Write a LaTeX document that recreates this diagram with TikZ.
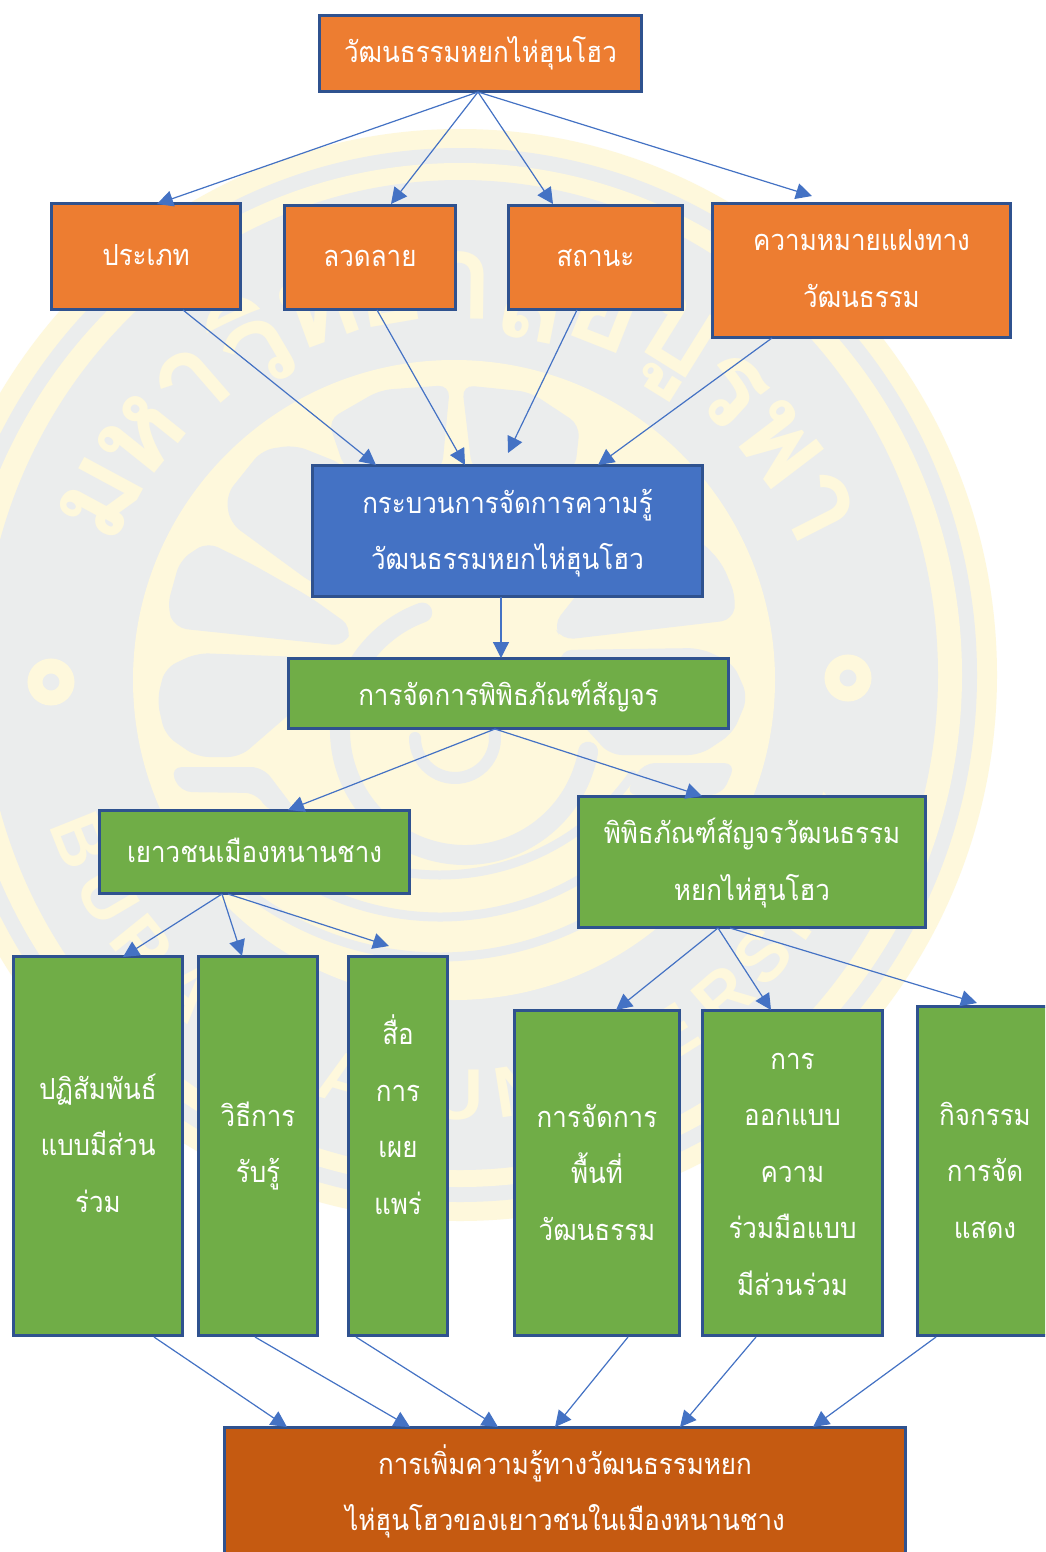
\documentclass[tikz,border=0pt]{standalone}
\usepackage{fontspec}
\usetikzlibrary{arrows.meta}
\newfontfamily\thaifont[Script=Thai]{Loma}
\newfontfamily\thainarrow[Script=Thai,FakeStretch=0.895]{Loma}
\newfontfamily\wmlatin{Liberation Sans}
\definecolor{wmy}{HTML}{FEF8DC}
\definecolor{wmg}{HTML}{EBEDED}
\definecolor{bord}{HTML}{2F528F}
\definecolor{conn}{HTML}{4472C4}
\definecolor{orangeb}{HTML}{ED7D31}
\definecolor{blueb}{HTML}{4472C4}
\definecolor{greenb}{HTML}{70AD47}
\definecolor{brownb}{HTML}{C55A11}
\tikzset{
  boxnode/.style={draw=bord,line width=3pt,inner sep=0pt},
  boxtext/.style={text=white,align=center,inner sep=0pt,
    font=\thainarrow\fontsize{29}{56.5}\selectfont},
  link/.style={draw=conn,line width=1.2pt,-{Triangle[length=16pt,width=16pt]}},
  wmblob/.style={fill=wmg,rounded corners=12pt},
  wmarc/.style={draw=wmg,line cap=round},
  wmthai/.style={text=wmy,inner sep=0pt,font=\thaifont\bfseries\fontsize{120}{120}\selectfont},
  wmlat/.style={text=wmy,inner sep=0pt,font=\wmlatin\bfseries\fontsize{72}{72}\selectfont}
}
\newcommand{\bx}[8][0]{\node[boxnode,fill=#7,minimum width={(#5)-(#3)-1.5},minimum height={(#6)-(#4)-1.5}] (#2) at ({((#3)+(#5))/2},{((#4)+(#6))/2}) {};
  \node[boxtext,yshift={-(#1)*1pt}] (#2text) at (#2.center) {#8};}
\begin{document}
\begin{tikzpicture}[x=1pt,y=-1pt]
\clip (0,0) rectangle (1045,1552);
\fill[white] (0,0) rectangle (1045,1552);
% watermark seal: outer rings
\fill[wmy] (460,675) ellipse [x radius=537,y radius=546];
\fill[wmg] (460,675) ellipse [x radius=517,y radius=527];
\fill[wmy] (460,675) ellipse [x radius=502,y radius=512];
\fill[wmg] (460,675) ellipse [x radius=478,y radius=495];
% inner wheel
\fill[wmy] (454,680) ellipse [x radius=321,y radius=320];
% grey fields between the spokes
\fill[wmblob] (295,445) -- (345,465) -- (352,600) -- (312,583) -- (230,523) -- (226,495) -- (262,450) -- cycle;
\fill[wmblob] (207,542) -- (250,563) -- (310,597) -- (352,627) -- (345,646) -- (175,628) -- (167,607) -- (180,560) -- cycle;
\fill[wmblob] (197,653) -- (300,657) -- (300,705) -- (240,757) -- (197,757) -- (165,735) -- (157,700) -- (165,668) -- cycle;
\fill[wmblob] (170,767) -- (263,767) -- (297,812) -- (268,812) -- (257,793) -- (180,792) -- cycle;
\fill[wmblob] (450,385) -- (442,470) -- (345,470) -- (328,420) -- (380,390) -- cycle;
\fill[wmblob] (462,385) -- (472,470) -- (575,470) -- (580,425) -- (530,392) -- cycle;
\fill[wmblob] (700,540) -- (722,563) -- (736,597) -- (733,620) -- (562,640) -- (553,625) -- (620,540) -- cycle;
\fill[wmblob] (560,650) -- (700,648) -- (733,663) -- (748,697) -- (733,733) -- (700,755) -- (610,755) -- (560,700) -- cycle;
\fill[wmblob] (643,763) -- (736,763) -- (722,795) -- (625,795) -- cycle;
% hub spiral and lower arcs
\draw[wmarc,line width=20pt] (465,730) ++(10:125) arc [start angle=10,end angle=250,radius=125];
\draw[wmarc,line width=12pt] (455,738) ++(-20:40) arc [start angle=-20,end angle=180,radius=40];
\draw[wmarc,line width=9pt] (440,640) ++(35:235) arc [start angle=35,end angle=135,radius=235];
\draw[wmarc,line width=9pt] (440,640) ++(38:277) arc [start angle=38,end angle=135,radius=277];
\draw[wmarc,line width=9pt] (440,640) ++(42:317) arc [start angle=42,end angle=135,radius=317];
% small rings
\draw[wmy,line width=15pt] (51,682) circle [radius=16];
\draw[wmy,line width=15pt] (848,678) circle [radius=16];
% watermark text
\foreach \ch [count=\i from 0] in {ม,ห,า,วิ,ท,ย,า,ลั,ย,บู,ร,พ,า}{
  \pgfmathsetmacro{\ang}{151.7-10.4*\i}
  \node[wmthai,rotate={\ang-90}] (wmt\i) at ({457+405*cos(\ang)},{690-405*sin(\ang)}) {\ch};
}
\foreach \ch/\ang [count=\i from 0] in {B/201.8,U/210.5,R/219,A/228,P/236,H/245,A/254,U/270,N/279,I/286,V/293,E/302,R/311,S/319,I/325,T/332,Y/341}{
  \node[wmlat,rotate={\ang+90}] (wml\i) at ({457+405*cos(\ang)},{690-405*sin(\ang)}) {\ch};
}
% boxes
\bx{top}{319}{15}{642}{92}{orangeb}{วัฒนธรรมหยกไห่ฮุนโฮว}
\bx[-1]{kind}{51}{203}{241}{310}{orangeb}{ประเภท}
\bx[1]{pattern}{284}{205}{456}{310}{orangeb}{ลวดลาย}
\bx[1]{status}{508}{205}{683}{310}{orangeb}{สถานะ}
\bx[-2]{meaning}{712}{203}{1011}{338}{orangeb}{ความหมายแฝงทาง\\วัฒนธรรม}
\bx[2]{process}{312}{465}{703}{597}{blueb}{กระบวนการจัดการความรู้\\วัฒนธรรมหยกไห่ฮุนโฮว}
\bx[3]{manage}{288}{658}{729}{729}{greenb}{การจัดการพิพิธภัณฑ์สัญจร}
\bx[-2]{youth}{99}{810}{410}{894}{greenb}{เยาวชนเมืองหนานชาง}
\bx[1]{museum}{578}{796}{926}{928}{greenb}{พิพิธภัณฑ์สัญจรวัฒนธรรม\\หยกไห่ฮุนโฮว}
\bx[-3]{inter}{13}{956}{183}{1336}{greenb}{ปฏิสัมพันธ์\\แบบมีส่วน\\ร่วม}
\bx{way}{198}{956}{318}{1336}{greenb}{วิธีการ\\รับรู้}
\bx[-3]{media}{348}{956}{448}{1336}{greenb}{สื่อ\\การ\\เผย\\แพร่\\\mbox{}}
\bx[-1]{space}{514}{1010}{680}{1336}{greenb}{การจัดการ\\พื้นที่\\วัฒนธรรม}
\bx[1]{design}{702}{1010}{883}{1336}{greenb}{การ\\ออกแบบ\\ความ\\ร่วมมือแบบ\\มีส่วนร่วม}
\bx[-1]{event}{917}{1006}{1053}{1336}{greenb}{กิจกรรม\\การจัด\\แสดง}
\bx[-2]{result}{224}{1427}{906}{1560}{brownb}{การเพิ่มความรู้ทางวัฒนธรรมหยก\\ไห่ฮุนโฮวของเยาวชนในเมืองหนานชาง}
% connector ends
\coordinate (t0) at (478,92);
\coordinate (a1) at (157,204); \coordinate (a2) at (391,204); \coordinate (a3) at (553,204); \coordinate (a4) at (812,196);
\coordinate (s1) at (183,310); \coordinate (s2) at (377,310); \coordinate (s3) at (577,310); \coordinate (s4) at (772,338);
\coordinate (e1) at (376,465); \coordinate (e2) at (465,465); \coordinate (e3) at (508,453); \coordinate (e4) at (598,465);
\coordinate (p0) at (501,597); \coordinate (p1) at (501,658);
\coordinate (m0) at (495,729); \coordinate (m1) at (288,810); \coordinate (m2) at (702,796);
\coordinate (y0) at (222,894); \coordinate (y1) at (228,894);
\coordinate (y2) at (123,957); \coordinate (y3) at (242,956); \coordinate (y4) at (389,946);
\coordinate (u0) at (718,928); \coordinate (u1) at (730,928);
\coordinate (u2) at (616,1010); \coordinate (u3) at (771,1010); \coordinate (u4) at (977,1003);
\coordinate (b1) at (154,1337); \coordinate (b2) at (255,1337); \coordinate (b3) at (356,1337);
\coordinate (b4) at (628,1337); \coordinate (b5) at (756,1337); \coordinate (b6) at (936,1337);
\coordinate (r1) at (287,1427); \coordinate (r2) at (410,1427); \coordinate (r3) at (498,1427);
\coordinate (r4) at (555,1427); \coordinate (r5) at (680,1427); \coordinate (r6) at (813,1427);
% connectors
\foreach \a/\b in {t0/a1,t0/a2,t0/a3,t0/a4,s1/e1,s2/e2,s3/e3,s4/e4,p0/p1,m0/m1,m0/m2,y0/y2,y0/y3,y1/y4,u0/u2,u0/u3,u1/u4,b1/r1,b2/r2,b3/r3,b4/r4,b5/r5,b6/r6}
  \draw[link] (\a) -- (\b);
\end{tikzpicture}
\end{document}
